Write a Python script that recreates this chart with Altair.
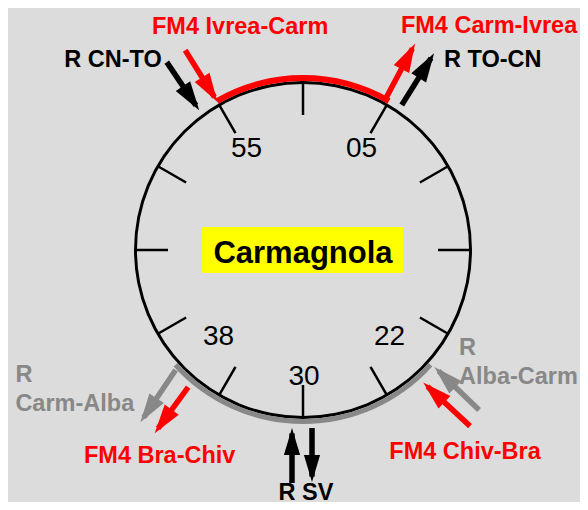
import math
import altair as alt
import numpy as np
import pandas as pd

# ---------------- data ----------------
station = "Carmagnola"

tick_minutes = [0, 5, 10, 15, 20, 25, 30, 35, 40, 45, 50, 55]

time_labels = ["55", "05", "38", "30", "22"]
time_minutes = [55, 5, 38, 30, 22]

# services that stop (arc from arrival minute to departure minute)
stop_line = ["FM4", "R Alba"]
stop_arrive = [55, 22]
stop_depart = [5, 38]

# arrows: trains arriving (in) / departing (out) at a given minute
arrow_label = ["R CN-TO", "FM4 Ivrea-Carm", "FM4 Carm-Ivrea", "R TO-CN",
               "R\nCarm-Alba", "FM4 Bra-Chiv", "R\nAlba-Carm", "FM4 Chiv-Bra",
               "R SV", "R SV"]
arrow_line = ["R", "FM4", "FM4", "R", "R Alba", "FM4", "R Alba", "FM4", "R", "R"]
arrow_minute = [55, 55, 5, 5, 38, 38, 22, 22, 30, 30]
arrow_dir = ["in", "in", "out", "out", "out", "out", "in", "in", "in", "out"]

line_domain = ["R", "FM4", "R Alba"]
line_colors = ["#000000", "#ff0000", "#888888"]

# ---------------- layout (pixels, relative to clock centre) ----------------
R_FACE_IN, R_FACE_OUT = 166.0, 169.0
TICK_OUT, TICK_IN = 168.0, 135.0
ARC_IN = {"FM4": 169.0, "R Alba": 169.0}
ARC_OUT = {"FM4": 175.0, "R Alba": 174.0}
NUM_RX, NUM_RY, NUM_DX, NUM_DY = 115.0, 122.0, 1.0, 5.0
BOX_L, BOX_R, BOX_T, BOX_B = -101, 100, -23, 23

arrow_side = [-20, 0, -4, 13, -4, -25, -1, 18, 11, -9]
arrow_rin = [173, 171, 171, 175, 175, 177, 176, 178, 178, 178]
arrow_len = [58, 61, 64, 61, 63, 57, 62, 64, 55, 54]
arrow_tilt = [-4, -2, -2, 2, -14, -12, 2, 1, 0, 0]
arrow_head = [29, 29, 29, 29, 29, 29, 29, 29, 27, 27]
text_dx = [-5, 55, 74, 10, -125, 5, -20, -5, 14, 14]
text_dy = [5, -16, -10, 14, -40, 30, -55, 33, 17, 17]
text_align = ["right", "center", "center", "left", "left", "center", "left", "center", "center", "center"]

W, H = 572, 494
X_DOM = [-295, 277]
Y_DOM = [-242, 252]

xs = alt.Scale(domain=X_DOM, nice=False, zero=False)
ys = alt.Scale(domain=Y_DOM, nice=False, zero=False, reverse=True)

# ---------------- geometry ----------------
def polar(minute, r):
    th = np.radians(np.asarray(minute, dtype=float) * 6.0)
    return r * np.sin(th), -r * np.cos(th)

# face ring
face_df = pd.DataFrame({"t0": [0.0], "t1": [2 * math.pi],
                        "ri": [R_FACE_IN], "ro": [R_FACE_OUT]})

# ticks
tx1, ty1 = polar(tick_minutes, TICK_OUT)
tx2, ty2 = polar(tick_minutes, TICK_IN)
ticks_df = pd.DataFrame({"m": tick_minutes, "x1": tx1, "y1": ty1, "x2": tx2, "y2": ty2})

# stop arcs
arc_rows = []
for ln, a, d in zip(stop_line, stop_arrive, stop_depart):
    dd = d if d > a else d + 60
    arc_rows.append({"line": ln, "t0": a / 60 * 2 * math.pi, "t1": dd / 60 * 2 * math.pi,
                     "ri": ARC_IN[ln], "ro": ARC_OUT[ln]})
arcs_df = pd.DataFrame(arc_rows)

# arrows
rows = []
for i in range(len(arrow_label)):
    th = math.radians(arrow_minute[i] * 6)
    ux, uy = math.sin(th), -math.cos(th)
    px, py = math.cos(th), math.sin(th)
    ix = arrow_rin[i] * ux + arrow_side[i] * px
    iy = arrow_rin[i] * uy + arrow_side[i] * py
    thd = th + math.radians(arrow_tilt[i])
    ox = ix + arrow_len[i] * math.sin(thd)
    oy = iy - arrow_len[i] * math.cos(thd)
    if arrow_dir[i] == "out":
        tipx, tipy, basex, basey = ox, oy, ix, iy
        heading = math.degrees(thd)
    else:
        tipx, tipy, basex, basey = ix, iy, ox, oy
        heading = math.degrees(thd) + 180
    heading = heading % 360
    hr = math.radians(heading)
    hl = arrow_head[i]
    hcx = tipx - hl / 2 * math.sin(hr)
    hcy = tipy + hl / 2 * math.cos(hr)
    rows.append({"label": arrow_label[i], "line": arrow_line[i],
                 "bx": basex, "by": basey, "hx": hcx, "hy": hcy,
                 "sx": hcx + 0.3 * hl * math.sin(hr), "sy": hcy - 0.3 * hl * math.cos(hr),
                 "ang": heading, "size": hl * hl,
                 "tx": ox + text_dx[i], "ty": oy + text_dy[i], "align": text_align[i]})
arrows_df = pd.DataFrame(rows)
labels_df = arrows_df.drop_duplicates("label")

# hour numbers
nx, ny = polar(time_minutes, 1.0)
nums_df = pd.DataFrame({"text": time_labels,
                        "x": NUM_DX + NUM_RX * nx, "y": NUM_DY + NUM_RY * ny})

color = alt.Color("line:N", scale=alt.Scale(domain=line_domain, range=line_colors), legend=None)

# ---------------- layers ----------------
face = alt.Chart(face_df).mark_arc(color="#000000").encode(
    x=alt.X(datum=0, scale=xs, axis=None),
    y=alt.Y(datum=0, scale=ys, axis=None),
    theta=alt.Theta("t0:Q", scale=None), theta2="t1:Q",
    radius=alt.Radius("ro:Q", scale=None), radius2="ri:Q")

ticks = alt.Chart(ticks_df).mark_rule(color="#000000", strokeWidth=2.5).encode(
    x=alt.X("x1:Q", scale=xs, axis=None), y=alt.Y("y1:Q", scale=ys, axis=None),
    x2="x2:Q", y2="y2:Q")

arcs = alt.Chart(arcs_df).mark_arc().encode(
    x=alt.X(datum=0, scale=xs, axis=None),
    y=alt.Y(datum=0, scale=ys, axis=None),
    theta=alt.Theta("t0:Q", scale=None), theta2="t1:Q",
    radius=alt.Radius("ro:Q", scale=None), radius2="ri:Q",
    color=color)

shafts = alt.Chart(arrows_df).mark_rule(strokeWidth=5.5, strokeCap="butt").encode(
    x=alt.X("bx:Q", scale=xs, axis=None), y=alt.Y("by:Q", scale=ys, axis=None),
    x2="sx:Q", y2="sy:Q", color=color)

heads = alt.Chart(arrows_df).mark_point(
    shape="M0,-1L0.6,1L-0.6,1Z", filled=True, opacity=1, strokeWidth=0).encode(
    x=alt.X("hx:Q", scale=xs, axis=None), y=alt.Y("hy:Q", scale=ys, axis=None),
    angle=alt.Angle("ang:Q", scale=None),
    size=alt.Size("size:Q", scale=None),
    color=color)

box = alt.Chart(pd.DataFrame({"name": [station]})).mark_rect(color="#ffff00").encode(
    x=alt.X(datum=BOX_L, scale=xs, axis=None), x2=alt.X2(datum=BOX_R),
    y=alt.Y(datum=BOX_T, scale=ys, axis=None), y2=alt.Y2(datum=BOX_B))

name = alt.Chart(pd.DataFrame({"name": [station]})).mark_text(
    font="Liberation Sans", fontWeight="bold", fontSize=31, color="#000000",
    align="center", baseline="alphabetic").encode(
    x=alt.X(datum=0, scale=xs, axis=None), y=alt.Y(datum=13, scale=ys, axis=None),
    text="name:N")

nums = alt.Chart(nums_df).mark_text(
    font="Liberation Sans", fontSize=28, color="#000000",
    align="center", baseline="middle").encode(
    x=alt.X("x:Q", scale=xs, axis=None), y=alt.Y("y:Q", scale=ys, axis=None),
    text="text:N")

text_layers = []
for al in ["left", "center", "right"]:
    sub = labels_df[labels_df["align"] == al]
    if len(sub) == 0:
        continue
    text_layers.append(alt.Chart(sub).mark_text(
        font="Liberation Sans", fontWeight="bold", fontSize=23.5,
        align=al, baseline="alphabetic", lineBreak="\n", lineHeight=29).encode(
        x=alt.X("tx:Q", scale=xs, axis=None), y=alt.Y("ty:Q", scale=ys, axis=None),
        text="label:N", color=color))

chart = alt.layer(face, ticks, arcs, shafts, heads, box, name, nums, *text_layers).properties(
    width=W, height=H, padding=0,
    autosize=alt.AutoSizeParams(type="none"),
    background="#dcdcdc",
).configure_view(stroke=None)

chart.save("out.html", embed_options={"renderer": "svg", "actions": False})
